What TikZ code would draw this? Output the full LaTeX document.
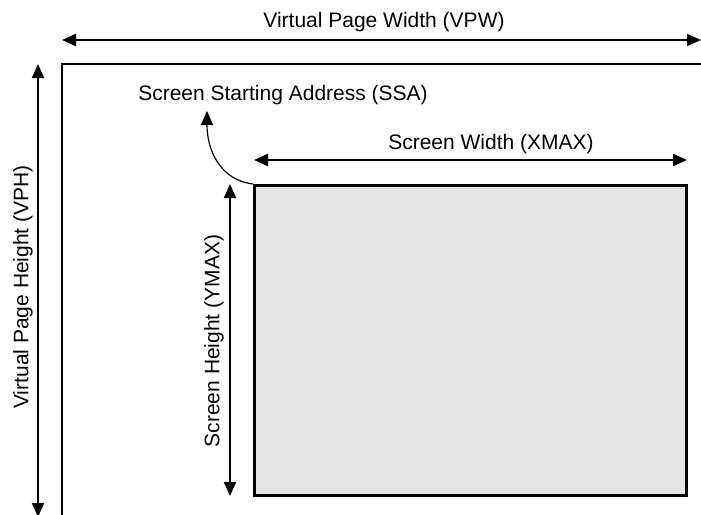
\documentclass[tikz,border=0pt]{standalone}
\usepackage{fontspec}
\setmainfont{Liberation Sans}
\usetikzlibrary{arrows.meta}
\begin{document}
\begin{tikzpicture}[x=1pt,y=-1pt,
  tip/.style={Triangle[length=14pt,width=12pt]},
  dim/.style={line width=2pt,{Triangle[length=14pt,width=12pt]}-{Triangle[length=14pt,width=12pt]}},
  lbl/.style={font=\fontsize{21}{24}\selectfont,inner sep=0pt},
  frame/.style={line width=2.2pt}]
\useasboundingbox (0,0) rectangle (701,514);
% screen
\node[draw,line width=2.6pt,fill={rgb,255:red,228;green,228;blue,228},minimum width=432pt,minimum height=310pt,anchor=north west,inner sep=0pt] (scr) at (253,184) {};
% frame
\coordinate (ftr) at (705,64);
\coordinate (fbl) at (62,518);
\draw[frame] (fbl) |- (ftr);
% top arrow
\coordinate (tl) at (62,40);
\coordinate (tr) at (701,40);
\draw[dim] (tl) -- (tr);
\node[lbl] (vpw) at (384,22) {Virtual Page Width (VPW)};
% left arrow
\coordinate (lt) at (38,64);
\coordinate (lb) at (38,517);
\draw[dim] (lt) -- (lb);
\node[lbl,rotate=90] (vph) at (23,287) {Virtual Page Height (VPH)};
% screen width arrow
\coordinate (swl) at (254,160);
\coordinate (swr) at (687,160);
\draw[dim] (swl) -- (swr);
\node[lbl] (xmax) at (491,144) {Screen Width (XMAX)};
% screen height arrow
\coordinate (sht) at (230,184);
\coordinate (shb) at (230,496);
\draw[dim] (sht) -- (shb);
\node[lbl,rotate=90] (ymax) at (214,341) {Screen Height (YMAX)};
% SSA
\node[lbl] (ssa) at (283,95) {Screen Starting Address (SSA)};
\coordinate (ssatip) at (207,111);
\draw[line width=1.2pt,-{Triangle[length=14pt,width=12pt]}] (scr.north west) .. controls (220,180) and (207,150) .. (ssatip);
\end{tikzpicture}
\end{document}
